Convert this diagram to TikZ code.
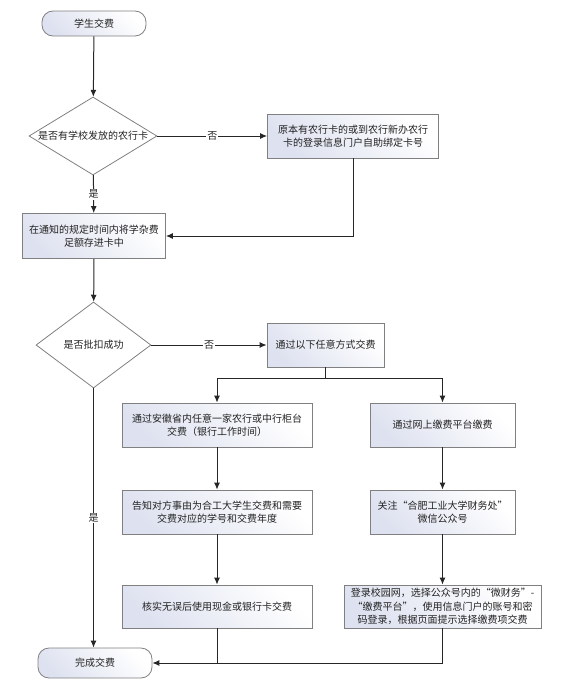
\documentclass[tikz,border=0pt]{standalone}
\usepackage{fontspec}
\newfontfamily\cjk{Noto Sans CJK SC}
\usetikzlibrary{shapes.geometric,arrows.meta}
\definecolor{boxl}{RGB}{222,226,240}
\definecolor{bord}{RGB}{128,128,128}
\definecolor{txt}{RGB}{35,35,35}
\begin{document}
\begin{tikzpicture}[x=1pt,y=-1pt,
  font=\cjk\fontsize{10}{13.5}\selectfont,
  box/.style={draw=bord, line width=0.8pt, top color=white, bottom color=boxl, shading angle=-45, text=txt, align=center, inner sep=0pt},
  term/.style={box, rounded corners=11pt},
  dec/.style={diamond, draw=bord, line width=0.8pt, fill=white, text=txt, inner sep=0pt, align=center},
  conn/.style={draw=black!85, line width=1pt, -{Latex[length=7pt,width=6pt]}},
  plain/.style={draw=black!85, line width=1pt},
  lbl/.style={fill=white, text=txt, inner sep=1pt}]
\useasboundingbox (0,0) rectangle (576,688);
\node[term, minimum width=104, minimum height=25] (start) at (94,23.5) {学生交费};
\node[dec, minimum width=128, minimum height=78] (d1) at (93,136) {\makebox[0pt]{是否有学校发放的农行卡}};
\node[box, minimum width=171, minimum height=44] (b1) at (353,136) {原本有农行卡的或到农行新办农行\\卡的登录信息门户自助绑定卡号};
\node[box, minimum width=143, minimum height=45] (b2) at (94,236) {在通知的规定时间内将学杂费\\足额存进卡中};
\node[dec, minimum width=115, minimum height=86] (d2) at (93.5,345) {\makebox[0pt]{是否批扣成功}};
\node[box, minimum width=117, minimum height=44] (b3) at (325.5,345) {通过以下任意方式交费};
\node[box, minimum width=190, minimum height=44] (b4l) at (217,425) {通过安徽省内任意一家农行或中行柜台\\交费（银行工作时间）};
\node[box, minimum width=190, minimum height=44] (b5l) at (217,512) {告知对方事由为合工大学生交费和需要\\交费对应的学号和交费年度};
\node[box, minimum width=190, minimum height=43] (b6l) at (217,606.5) {核实无误后使用现金或银行卡交费};
\node[box, minimum width=145, minimum height=44] (b4r) at (442.5,425) {通过网上缴费平台缴费};
\node[box, minimum width=145, minimum height=44] (b5r) at (442.5,512) {关注“合肥工业大学财务处”\\微信公众号};
\node[box, minimum width=197, minimum height=43] (b6r) at (442.5,606.5) {登录校园网，选择公众号内的“微财务”-\\“缴费平台”，使用信息门户的账号和密\\码登录，根据页面提示选择缴费项交费};
\node[term, minimum width=114, minimum height=30] (end) at (95,663) {完成交费};
\draw[conn] (start) -- (d1);
\draw[conn] (d1) -- node[lbl] {否} (b1);
\draw[conn] (d1) -- node[lbl] {是} (b2);
\draw[conn] (b1.south) |- (b2.east);
\draw[conn] (b2) -- (d2);
\draw[conn] (d2) -- node[lbl] {否} (b3);
\draw[plain] (b3.south) -- ++(0,11) coordinate (split);
\draw[conn] (split) -| (b4l.north);
\draw[conn] (split) -| (b4r.north);
\draw[conn] (b4l) -- (b5l);
\draw[conn] (b5l) -- (b6l);
\draw[conn] (b4r) -- (b5r);
\draw[conn] (b5r) -- (b6r);
\draw[conn] (d2.south) -- node[lbl] {是} (d2.south |- end.north);
\coordinate (join) at (b6l.south |- end.east);
\draw[plain] (b6r.south) |- (join);
\draw[plain] (b6l.south) -- (join);
\draw[conn] (join) -- (end.east);
\end{tikzpicture}
\end{document}
